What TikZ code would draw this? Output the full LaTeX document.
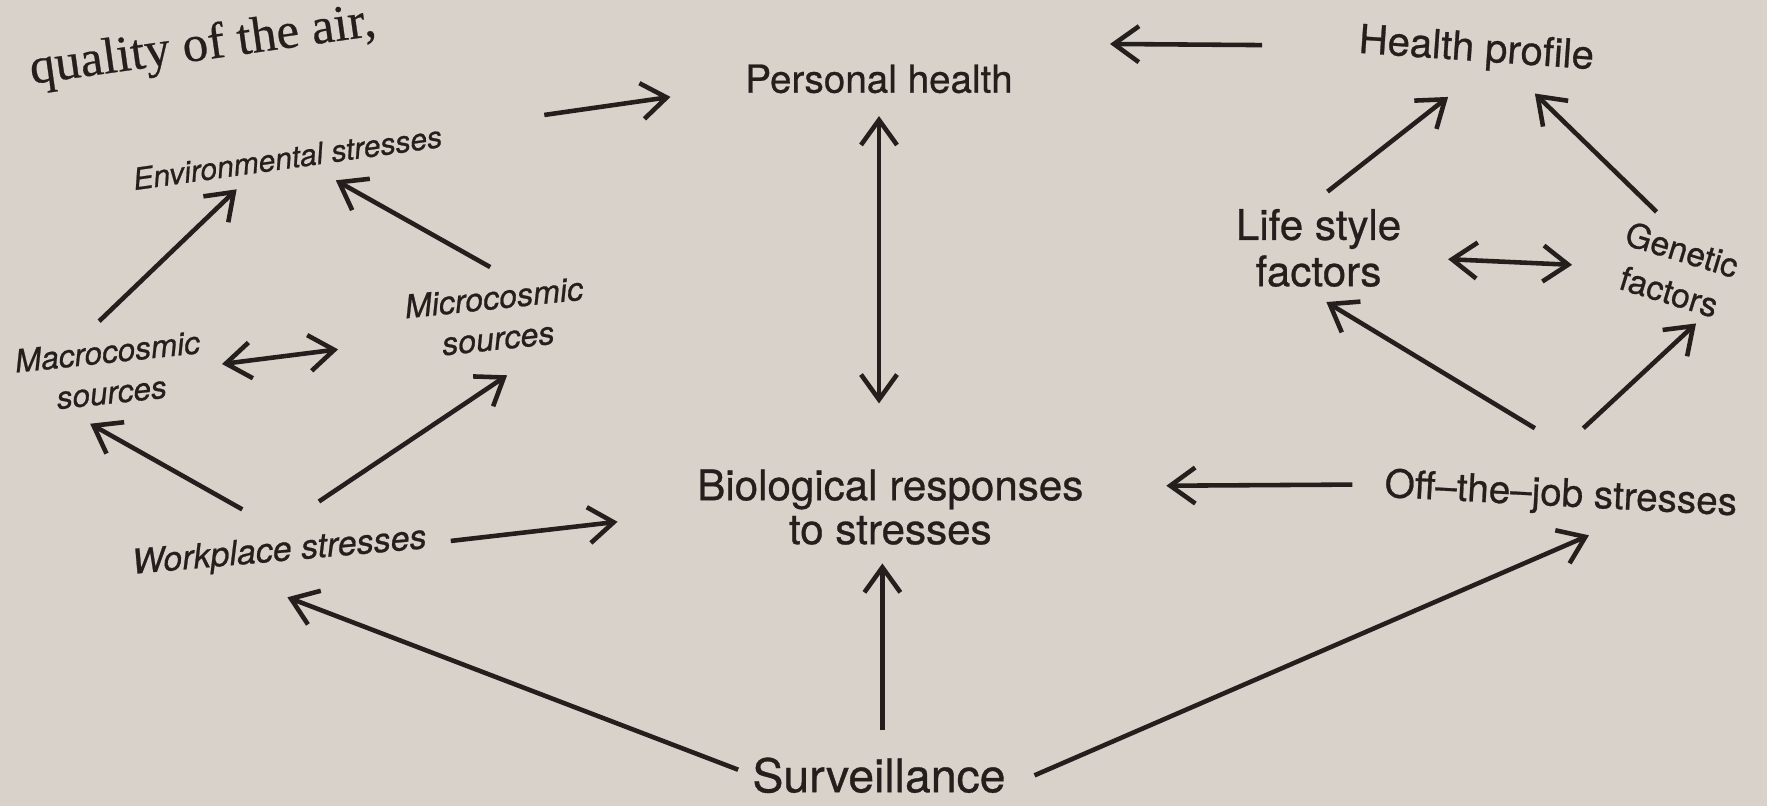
\documentclass[tikz,border=0pt]{standalone}
\usepackage{fontspec}
\setmainfont[FakeBold=0.7]{TeX Gyre Heros}
\newfontfamily\bookfont[FakeBold=0.5]{Liberation Serif}
\usetikzlibrary{arrows.meta,calc}
\definecolor{paper}{HTML}{D8D2CA}
\definecolor{ink}{HTML}{241F1D}
\tikzset{
  lbl/.style={inner sep=0pt, text=ink, align=center},
  arr/.style={draw=ink, line width=1.3pt, -{Straight Barb[length=2.5mm,width=3.6mm,line width=1.3pt]}},
  arrd/.style={draw=ink, line width=1.3pt, {Straight Barb[length=2.5mm,width=3.6mm,line width=1.3pt]}-{Straight Barb[length=2.5mm,width=3.6mm,line width=1.3pt]}}
}
\begin{document}
\begin{tikzpicture}[x=0.01127cm, y=-0.01127cm]
\fill[paper] (0,0) rectangle (1568,715);
\useasboundingbox (0,0) rectangle (1568,715);
% book text
\node[lbl, rotate=8, font=\bookfont\fontsize{14.5}{15}\selectfont] (bk) at (180,42) {quality of the air,};
% nodes
\node[lbl, font=\fontsize{11}{12}\selectfont] (ph) at (780,70) {Personal health};
\node[lbl, rotate=-4, font=\fontsize{11.4}{12}\selectfont] (hp) at (1310,45) {Health profile};
\node[lbl, rotate=8, font=\itshape\fontsize{8.6}{10}\selectfont] (env) at (255,140) {Environmental stresses};
\node[lbl, rotate=6, font=\itshape\fontsize{9.2}{11.6}\selectfont] (micro) at (440,282) {Microcosmic\\sources};
\node[lbl, rotate=6, font=\itshape\fontsize{9}{11.6}\selectfont] (macro) at (97,330) {Macrocosmic\\sources};
\node[lbl, rotate=5, font=\itshape\fontsize{9.7}{11}\selectfont] (work) at (248,490) {Workplace stresses};
\node[lbl, font=\fontsize{12}{12.5}\selectfont] (bio) at (790,450) {Biological responses\\to stresses};
\node[lbl, font=\fontsize{13.2}{14}\selectfont] (surv) at (780,688) {Surveillance};
\node[lbl, rotate=-3, font=\fontsize{11}{12}\selectfont] (off) at (1385,440) {Off--the--job stresses};
\node[lbl, font=\fontsize{12}{13.2}\selectfont] (life) at (1170,220) {Life style\\factors};
\node[lbl, rotate=-17, font=\fontsize{9.6}{12.5}\selectfont] (gen) at (1487,240) {Genetic\\factors};
% connectors
\draw[arr] ($(env)+(228,-38)$) -- ($(ph)+(-185,16)$);
\draw[arr] ($(hp)+(-190,-5)$) -- ($(ph)+(205,-31)$);
\draw[arrd] ($(ph)+(0,33)$) -- ($(ph |- bio)+(0,-92)$);
\draw[arr] ($(macro)+(-9,-45)$) -- ($(env)+(-45,28)$);
\draw[arr] ($(micro)+(-5,-45)$) -- ($(env)+(43,20)$);
\draw[arrd] ($(macro)+(100,-7)$) -- ($(micro)+(-140,28)$);
\draw[arr] ($(work)+(-33,-38)$) -- ($(macro)+(-17,46)$);
\draw[arr] ($(work)+(35,-45)$) -- ($(micro)+(10,51)$);
\draw[arr] ($(work)+(152,-10)$) -- ($(bio)+(-242,13)$);
\draw[arr] ($(surv)+(-125,-5)$) -- ($(work)+(7,40)$);
\draw[arr] ($(surv)+(3,-40)$) -- ($(surv |- bio)+(3,50)$);
\draw[arr] ($(surv)+(138,0)$) -- ($(off)+(25,35)$);
\draw[arr] ($(off)+(-185,-10)$) -- ($(bio)+(245,-19)$);
\draw[arr] ($(off)+(-23,-60)$) -- ($(life)+(7,48)$);
\draw[arr] ($(off)+(20,-60)$) -- ($(gen)+(18,47)$);
\draw[arrd] ($(life)+(115,10)$) -- ($(gen)+(-92,-5)$);
\draw[arr] ($(life)+(8,-50)$) -- ($(hp)+(-25,41)$);
\draw[arr] ($(gen)+(-17,-52)$) -- ($(hp)+(52,38)$);
\end{tikzpicture}
\end{document}
